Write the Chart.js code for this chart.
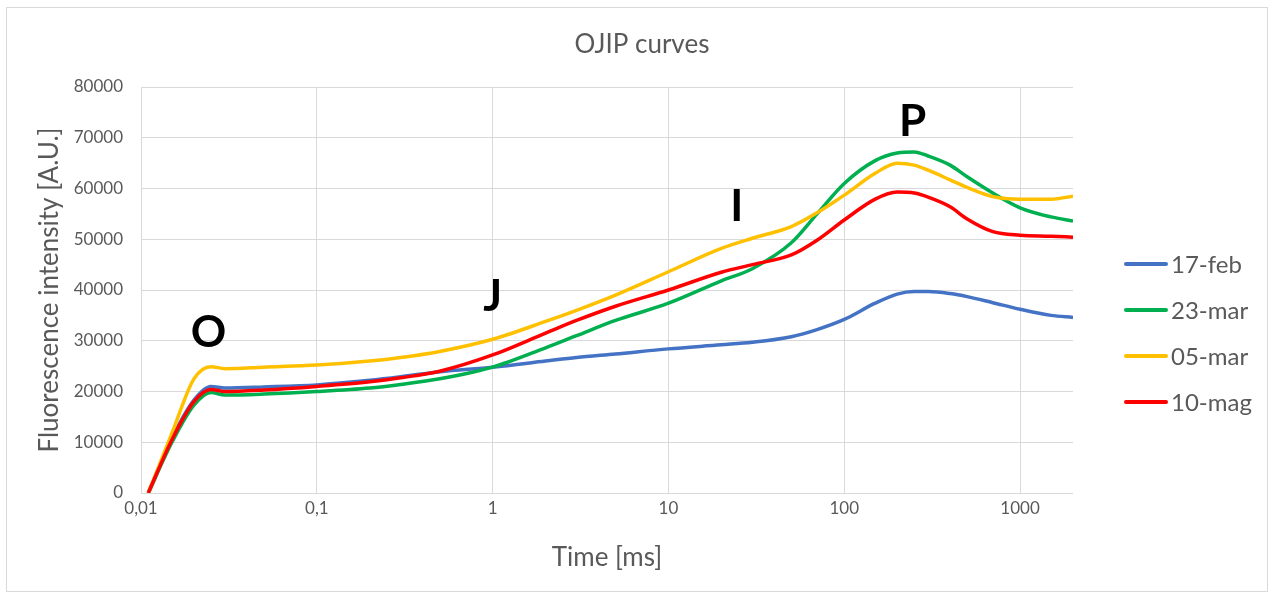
<!DOCTYPE html>
<html lang="it">
<head>
<meta charset="UTF-8">
<title>OJIP curves</title>
<script src="https://cdn.jsdelivr.net/npm/chart.js"></script>
<style>
    html, body { margin: 0; padding: 0; background: #fff; }
    .frame {
        position: absolute; left: 6px; top: 7px; width: 1262px; height: 585px;
        border: 1px solid #d9d9d9; box-sizing: border-box;
    }
    .chart-box {
        position: absolute; left: 7px; top: 8px; width: 1260px; height: 583px;
    }
</style>
</head>
<body>
<div class="frame"></div>
<div class="chart-box"><canvas id="ojipChart"></canvas></div>

<script>
// time axis (ms) and fluorescence readings per sampling date
const times = [0.011, 0.015, 0.02, 0.025, 0.03, 0.05, 0.1, 0.2, 0.3, 0.5, 1, 2, 3, 5, 10,
               20, 30, 50, 70, 100, 150, 200, 250, 300, 400, 500, 700, 1000, 1500, 2000];

const feb17 = [0, 10800, 18300, 21000, 20700, 20900, 21300, 22200, 22900, 23900, 24800, 26000, 26700, 27400, 28400,
               29200, 29700, 30800, 32200, 34200, 37400, 39200, 39700, 39700, 39300, 38700, 37500, 36200, 35000, 34600];
const mar23 = [0, 10000, 17300, 19800, 19300, 19500, 20000, 20700, 21400, 22500, 24800, 28600, 31000, 34000, 37400,
               41800, 44200, 49300, 55000, 61000, 65500, 67000, 67200, 66400, 64600, 62300, 59100, 56200, 54400, 53600];
const mar05 = [0, 11800, 22500, 24900, 24500, 24800, 25200, 26000, 26700, 27900, 30300, 33800, 36000, 39000, 43600,
               48200, 50200, 52500, 55200, 58700, 63000, 65000, 64600, 63600, 61700, 60200, 58400, 57900, 57900, 58500];
const mag10 = [0, 10500, 18000, 20400, 20000, 20300, 21000, 21900, 22700, 24000, 27200, 31500, 34000, 36800, 40000,
               43500, 45000, 46900, 49800, 53800, 57900, 59300, 59100, 58300, 56400, 54000, 51500, 50800, 50600, 50400];

const seriesNames = ['17-feb', '23-mar', '05-mar', '10-mag'];
const seriesColors = ['#4472C4', '#00B050', '#FFC000', '#FF0000'];

const xTicks = [0.01, 0.1, 1, 10, 100, 1000];
const yTicks = [0, 10000, 20000, 30000, 40000, 50000, 60000, 70000, 80000];

// O-J-I-P phase markers (time, level)
const phaseNames = ['O', 'J', 'I', 'P'];
const phaseTimes = [0.0242, 1.0, 24.5, 245];
const phaseLevels = [31500, 38600, 56400, 73200];

const FONT = 'Lato, "Open Sans", sans-serif';
const GREY = '#595959';

const allSeries = [feb17, mar23, mar05, mag10];

const datasets = allSeries.map((vals, i) => ({
    label: seriesNames[i],
    data: vals.map((v, k) => ({ x: times[k], y: v })),
    borderColor: seriesColors[i],
    backgroundColor: seriesColors[i],
    borderWidth: 3.5,
    pointRadius: 0,
    cubicInterpolationMode: 'monotone',
    order: allSeries.length - i
}));

// chart title, centred on the whole frame rather than the plot
const frameTitle = {
    id: 'frameTitle',
    afterDraw(chart) {
        const { ctx } = chart;
        ctx.save();
        ctx.font = '26px ' + FONT;
        ctx.fillStyle = GREY;
        ctx.textAlign = 'center';
        ctx.textBaseline = 'middle';
        ctx.fillText('OJIP curves', 635, 37);
        ctx.restore();
    }
};

// phase letters drawn in data space
const phaseLetters = {
    id: 'phaseLetters',
    afterDatasetsDraw(chart) {
        const { ctx, scales } = chart;
        ctx.save();
        ctx.font = 'bold 44px ' + FONT;
        ctx.fillStyle = '#000';
        ctx.textAlign = 'center';
        ctx.textBaseline = 'middle';
        phaseNames.forEach((t, i) => {
            ctx.fillText(t, scales.x.getPixelForValue(phaseTimes[i]), scales.y.getPixelForValue(phaseLevels[i]));
        });
        ctx.restore();
    }
};

// legend on the right, items stacked below the middle
const sideLegend = {
    id: 'sideLegend',
    afterDraw(chart) {
        const { ctx, chartArea } = chart;
        const x0 = chartArea.right + 53;
        ctx.save();
        ctx.font = '24px ' + FONT;
        ctx.textBaseline = 'middle';
        ctx.lineCap = 'round';
        chart.data.datasets.forEach((ds, i) => {
            const y = chartArea.top + 177 + i * 46;
            ctx.strokeStyle = ds.borderColor;
            ctx.lineWidth = 4;
            ctx.beginPath();
            ctx.moveTo(x0, y);
            ctx.lineTo(x0 + 40, y);
            ctx.stroke();
            ctx.fillStyle = GREY;
            ctx.fillText(ds.label, x0 + 45, y + 1);
        });
        ctx.restore();
    }
};

new Chart(document.getElementById('ojipChart'), {
    type: 'line',
    data: { datasets: datasets },
    plugins: [frameTitle, phaseLetters, sideLegend],
    options: {
        responsive: true,
        maintainAspectRatio: false,
        animation: false,
        layout: { padding: { left: 24, right: 194, top: 79, bottom: 10 } },
        plugins: {
            legend: { display: false },
            tooltip: { enabled: false },
            title: { display: false }
        },
        scales: {
            x: {
                type: 'logarithmic',
                min: 0.01,
                max: 2000,
                afterBuildTicks: s => { s.ticks = xTicks.map(v => ({ value: v })); },
                afterFit: s => { s.height = 88; },
                ticks: {
                    autoSkip: false,
                    maxRotation: 0,
                    padding: 5,
                    color: GREY,
                    font: { family: FONT, size: 17 },
                    callback: v => String(v).replace('.', ',')
                },
                grid: { color: '#d9d9d9', lineWidth: 1, drawTicks: false },
                border: { display: false },
                title: {
                    display: true,
                    text: 'Time [ms]',
                    color: GREY,
                    font: { family: FONT, size: 26 },
                    padding: { top: 4, bottom: 8 }
                }
            },
            y: {
                min: 0,
                max: 80000,
                afterBuildTicks: s => { s.ticks = yTicks.map(v => ({ value: v })); },
                afterFit: s => { s.width = 110; },
                ticks: {
                    padding: 18,
                    color: GREY,
                    font: { family: FONT, size: 17 },
                    callback: v => String(v)
                },
                grid: { color: '#d9d9d9', lineWidth: 1, drawTicks: false },
                border: { display: false },
                title: {
                    display: true,
                    text: 'Fluorescence intensity [A.U.]',
                    color: GREY,
                    font: { family: FONT, size: 26 },
                    padding: { top: 3, bottom: 4 }
                }
            }
        }
    }
});
</script>
</body>
</html>
